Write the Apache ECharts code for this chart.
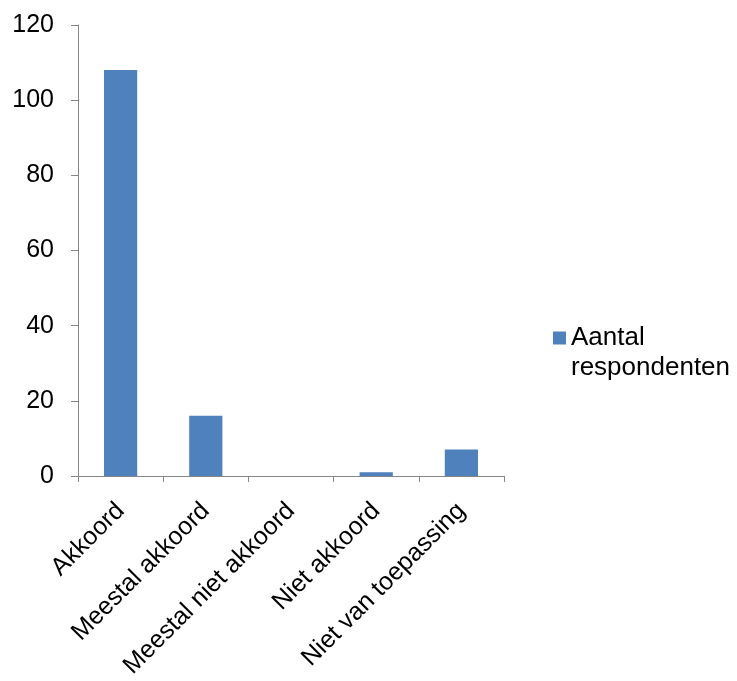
<!DOCTYPE html>
<html>
<head>
<meta charset="utf-8">
<script src="https://cdn.jsdelivr.net/npm/echarts@6/dist/echarts.min.js"></script>
<style>
  html, body { margin: 0; padding: 0; background: #ffffff; }
  #chart { width: 737px; height: 681px; }
</style>
</head>
<body>
<div id="chart"></div>
<script>
const categories = ['Akkoord', 'Meestal akkoord', 'Meestal niet akkoord', 'Niet akkoord', 'Niet van toepassing'];
const seriesName = 'Aantal respondenten';
const values = [108, 16, 0, 1, 7];
const yTicks = { min: 0, max: 120, interval: 20 };

const chart = echarts.init(document.getElementById('chart'), null, { renderer: 'canvas' });
const font = 'Liberation Sans, Arial, sans-serif';
chart.setOption({
  animation: false,
  backgroundColor: '#ffffff',
  grid: { left: 78, right: 233, top: 25, bottom: 204, containLabel: false },
  legend: {
    left: 553,
    top: 293,
    padding: 0,
    orient: 'vertical',
    itemWidth: 13,
    itemHeight: 13,
    itemGap: 0,
    icon: 'rect',
    data: [seriesName],
    formatter: function () { return '\nAantal\nrespondenten'; },
    textStyle: { fontFamily: font, fontSize: 26, color: '#000', lineHeight: 30 }
  },
  xAxis: {
    type: 'category',
    data: categories,
    axisLine: { lineStyle: { color: '#868686', width: 1 } },
    axisTick: { show: true, length: 6, alignWithLabel: false, lineStyle: { color: '#868686' } },
    axisLabel: { rotate: 45, interval: 0, margin: 31, fontFamily: font, fontSize: 25, color: '#000' },
    splitLine: { show: false }
  },
  yAxis: {
    type: 'value',
    min: yTicks.min,
    max: yTicks.max,
    interval: yTicks.interval,
    axisLine: { show: true, lineStyle: { color: '#868686', width: 1 } },
    axisTick: { show: true, length: 7, lineStyle: { color: '#868686' } },
    axisLabel: { margin: 24, fontFamily: font, fontSize: 25, color: '#000' },
    splitLine: { show: false }
  },
  series: [{
    name: seriesName,
    type: 'bar',
    data: values,
    barWidth: '39%',
    itemStyle: { color: '#4F81BD' }
  }]
});
</script>
</body>
</html>
